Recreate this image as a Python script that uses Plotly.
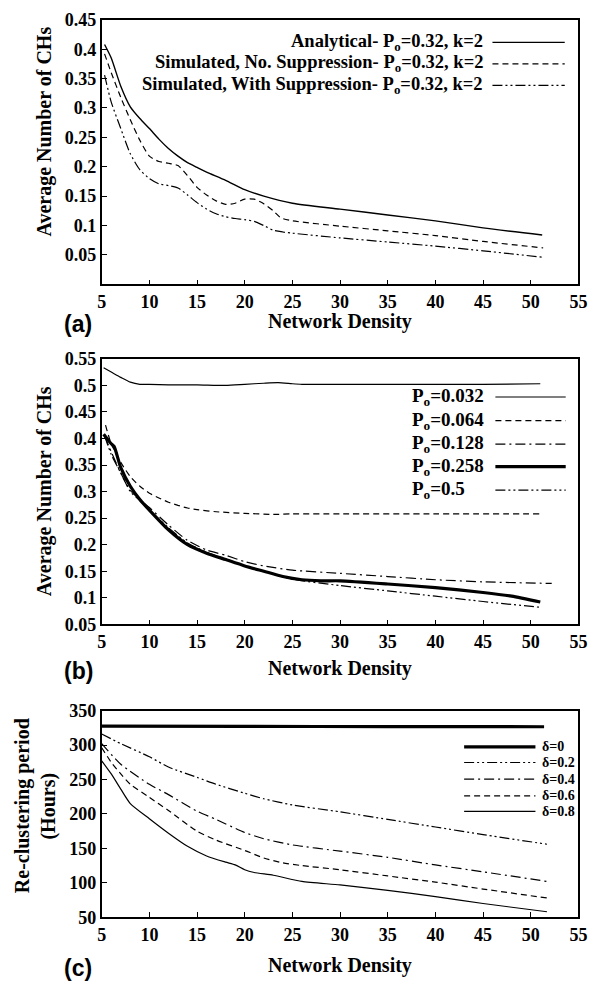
import plotly.graph_objects as go

W, H = 605, 990
SERIF = "Liberation Serif, Times New Roman, serif"
SANS = "Liberation Sans, Arial, sans-serif"

# ---------------- Panel (a) data ----------------
a_an_x = [5.3, 6, 7, 8, 9, 10, 11, 12, 13, 14, 15, 16, 18, 20, 22, 25, 30, 35, 40, 45, 51.2]
a_an_y = [0.408, 0.385, 0.337, 0.302, 0.282, 0.265, 0.247, 0.231, 0.218, 0.207, 0.199, 0.191, 0.177, 0.161, 0.150, 0.138, 0.128, 0.118, 0.108, 0.096, 0.084]
a_ns_x = [5.3, 6, 7, 8, 9, 10, 11, 12, 13, 14, 15, 16, 17, 18, 19, 20, 21, 22, 23, 23.8, 25, 30, 35, 40, 45, 51.3]
a_ns_y = [0.392, 0.36, 0.318, 0.28, 0.245, 0.218, 0.209, 0.206, 0.202, 0.185, 0.165, 0.152, 0.142, 0.136, 0.138, 0.145, 0.145, 0.137, 0.125, 0.113, 0.108, 0.099, 0.091, 0.083, 0.073, 0.062]
a_ws_x = [5.3, 6, 7, 8, 9, 10, 11, 12, 13, 14, 15, 16, 17, 18, 19, 20, 21, 22, 23, 24, 25, 30, 35, 40, 45, 51.3]
a_ws_y = [0.356, 0.31, 0.265, 0.222, 0.195, 0.18, 0.171, 0.168, 0.164, 0.152, 0.139, 0.128, 0.12, 0.115, 0.112, 0.11, 0.107, 0.1, 0.092, 0.089, 0.087, 0.079, 0.072, 0.065, 0.057, 0.046]
a_names = ["Analytical- P<sub>o</sub>=0.32, k=2",
           "Simulated, No. Suppression- P<sub>o</sub>=0.32, k=2",
           "Simulated, With Suppression- P<sub>o</sub>=0.32, k=2"]
a_yticks = [0.05, 0.1, 0.15, 0.2, 0.25, 0.3, 0.35, 0.4, 0.45]
a_ytext = ["0.05", "0.1", "0.15", "0.2", "0.25", "0.3", "0.35", "0.4", "0.45"]

# ---------------- Panel (b) data ----------------
b1_x = [5.2, 6, 7, 8, 9, 10, 12, 15, 18, 20, 22, 23.5, 25, 26, 30, 35, 40, 45, 51]
b1_y = [0.533, 0.525, 0.515, 0.506, 0.502, 0.502, 0.501, 0.501, 0.5, 0.502, 0.504, 0.505, 0.503, 0.502, 0.502, 0.502, 0.502, 0.502, 0.503]
b2_x = [5.4, 6, 7, 8, 9, 10, 11, 12, 13, 14, 15, 17, 20, 23, 25, 30, 40, 51]
b2_y = [0.425, 0.39, 0.355, 0.328, 0.31, 0.297, 0.288, 0.28, 0.274, 0.269, 0.266, 0.262, 0.259, 0.257, 0.258, 0.258, 0.258, 0.258]
b3_x = [5.3, 6, 7, 8, 9, 10, 12, 14, 16, 18, 20, 22, 25, 30, 35, 40, 45, 52.2]
b3_y = [0.405, 0.375, 0.335, 0.302, 0.285, 0.27, 0.237, 0.208, 0.19, 0.18, 0.168, 0.16, 0.152, 0.146, 0.14, 0.134, 0.13, 0.127]
b4_x = [5.2, 6, 6.3, 7, 8, 9, 10, 12, 14, 16, 18, 20, 22, 24, 26, 28, 30, 35, 40, 45, 48, 51]
b4_y = [0.408, 0.39, 0.385, 0.345, 0.31, 0.285, 0.265, 0.228, 0.2, 0.184, 0.172, 0.16, 0.15, 0.14, 0.134, 0.132, 0.132, 0.126, 0.119, 0.11, 0.103, 0.092]
b5_x = [5.3, 6, 7, 8, 9, 10, 12, 14, 16, 18, 20, 22, 25, 30, 35, 40, 45, 51]
b5_y = [0.405, 0.37, 0.335, 0.3, 0.283, 0.265, 0.232, 0.203, 0.186, 0.173, 0.16, 0.15, 0.135, 0.123, 0.113, 0.103, 0.093, 0.082]
b_names = ["P<sub>o</sub>=0.032", "P<sub>o</sub>=0.064", "P<sub>o</sub>=0.128",
           "P<sub>o</sub>=0.258", "P<sub>o</sub>=0.5"]
b_yticks = [0.05, 0.1, 0.15, 0.2, 0.25, 0.3, 0.35, 0.4, 0.45, 0.5, 0.55]
b_ytext = ["0.05", "0.1", "0.15", "0.2", "0.25", "0.3", "0.35", "0.4", "0.45", "0.5", "0.55"]

# ---------------- Panel (c) data ----------------
c0_x = [5, 20, 35, 51.4]
c0_y = [327.5, 327, 326.8, 326.5]
c2_x = [5, 7, 10, 12, 15, 17, 20, 22, 25, 30, 35, 40, 45, 51.7]
c2_y = [316, 302, 283, 268, 253, 243, 230, 222, 213, 203, 192, 181, 170, 156]
c4_x = [5, 7, 10, 12, 15, 17, 20, 22, 25, 30, 35, 40, 45, 51.7]
c4_y = [302, 272, 243, 228, 204, 192, 173, 164, 155, 146, 137, 126, 116, 102]
c6_x = [5, 6, 7, 8, 10, 12, 15, 17, 20, 22, 24, 26, 30, 35, 40, 45, 51.7]
c6_y = [296, 275, 258, 243, 224, 205, 175, 162, 147, 136, 129, 125, 119, 110, 101, 91, 78]
c8_x = [5, 6, 7, 8, 10, 12, 14, 16, 18, 19, 20, 21, 23, 26, 30, 35, 40, 45, 51.7]
c8_y = [277, 258, 236, 215, 193, 172, 153, 139, 130, 126, 119, 115, 111, 102, 97, 89, 80, 70, 58]
c_names = ["δ=0", "δ=0.2", "δ=0.4", "δ=0.6", "δ=0.8"]
c_yticks = [50, 100, 150, 200, 250, 300, 350]

x_ticks = [5, 10, 15, 20, 25, 30, 35, 40, 45, 50, 55]
x_title = "Network Density"
panel_labels = ["(a)", "(b)", "(c)"]

# ---------------- styles ----------------
SOLID = "solid"
DASH = "6px,4px"
DASHDOT = "10px,4px,2px,4px"
DASHDOTDOT = "10px,3px,2px,3px,2px,3px"

def px_x(p):
    return p / W

def px_y(p):
    return 1 - p / H

LEFT, RIGHT = 99, 587
boxes = [(10, 280), (356, 627), (715, 926)]

fig = go.Figure()

def add(x, y, ax, dash, width):
    fig.add_trace(go.Scatter(
        x=x, y=y, mode="lines", xaxis="x" + ax, yaxis="y" + ax,
        line=dict(color="black", dash=dash, width=width, shape="spline", smoothing=0.6),
        showlegend=False, hoverinfo="skip"))

a_styles = [(SOLID, 1.4), (DASH, 1.2), (DASHDOTDOT, 1.2)]
for (x, y), (d, w) in zip([(a_an_x, a_an_y), (a_ns_x, a_ns_y), (a_ws_x, a_ws_y)], a_styles):
    add(x, y, "", d, w)

b_styles = [(SOLID, 1.2), (DASH, 1.2), (DASHDOT, 1.2), (SOLID, 3.2), (DASHDOTDOT, 1.2)]
for (x, y), (d, w) in zip([(b1_x, b1_y), (b2_x, b2_y), (b3_x, b3_y), (b4_x, b4_y), (b5_x, b5_y)], b_styles):
    add(x, y, "2", d, w)

c_styles = [(SOLID, 3.2), (DASHDOTDOT, 1.2), (DASHDOT, 1.2), (DASH, 1.2), (SOLID, 1.2)]
for (x, y), (d, w) in zip([(c0_x, c0_y), (c2_x, c2_y), (c4_x, c4_y), (c6_x, c6_y), (c8_x, c8_y)], c_styles):
    add(x, y, "3", d, w)

tickfont = dict(family=SERIF, size=18, color="black", weight="bold")
xdom = [px_x(LEFT), px_x(RIGHT)]

def xaxis_cfg(anchor):
    return dict(domain=xdom, anchor=anchor, range=[5, 55], tickvals=x_ticks,
                ticks="inside", ticklen=5, tickwidth=1.2, tickcolor="black",
                showline=True, linecolor="black", linewidth=1.6, mirror=True,
                showgrid=False, zeroline=False, tickfont=tickfont)

def yaxis_cfg(anchor, dom, rng, tv, tt):
    return dict(domain=dom, anchor=anchor, range=rng, tickvals=tv, ticktext=tt,
                ticks="inside", ticklen=5, tickwidth=1.2, tickcolor="black",
                showline=True, linecolor="black", linewidth=1.6, mirror=True,
                showgrid=False, zeroline=False, tickfont=tickfont)

doms = [[px_y(b), px_y(t)] for t, b in boxes]

fig.update_layout(
    width=W, height=H, margin=dict(l=0, r=0, t=0, b=0),
    paper_bgcolor="white", plot_bgcolor="white", showlegend=False,
    font=dict(family=SERIF, color="black"),
    xaxis=xaxis_cfg("y"), xaxis2=xaxis_cfg("y2"), xaxis3=xaxis_cfg("y3"),
    yaxis=yaxis_cfg("x", doms[0], [0, 0.45], a_yticks, a_ytext),
    yaxis2=yaxis_cfg("x2", doms[1], [0.05, 0.55], b_yticks, b_ytext),
    yaxis3=yaxis_cfg("x3", doms[2], [50, 350], c_yticks, [str(v) for v in c_yticks]),
)

ann = []
shapes = []

def text(x, y, s, size, family=SERIF, xanchor="center", angle=0):
    ann.append(dict(x=px_x(x), y=px_y(y), xref="paper", yref="paper", text=s,
                    showarrow=False, xanchor=xanchor, yanchor="middle", textangle=angle,
                    font=dict(family=family, size=size, color="black", weight="bold")))

def sample(x0, x1, y, dash, width):
    shapes.append(dict(type="line", xref="paper", yref="paper",
                       x0=px_x(x0), x1=px_x(x1), y0=px_y(y), y1=px_y(y),
                       line=dict(color="black", dash=dash, width=width)))

for yy, lab, ly in zip([318, 672, 975], panel_labels, [320, 675, 978]):
    text(343, yy, x_title, 20)
    text(75, ly, lab, 23, family=SANS)

text(40, 124, "Average Number of CHs", 20, angle=-90)
text(40, 491, "Average Number of CHs", 20, angle=-90)
text(18, 812, "Re-clustering period", 20, angle=-90)
text(45, 812, "(Hours)", 20, angle=-90)

for yy, name, (d, w) in zip([33, 55, 77], a_names, a_styles):
    text(491, yy, name, 18.5, xanchor="right")
    sample(499, 573, yy, d, w)

for yy, name, (d, w) in zip([395, 419, 443, 466, 490], b_names, b_styles):
    text(415, yy, name, 19, xanchor="left")
    sample(502, 574, yy, d, w)

for yy, name, (d, w) in zip([752, 768, 785, 802, 818], c_names, c_styles):
    text(548, yy, name, 14, xanchor="left")
    sample(470, 543, yy, d, w)

fig.update_layout(annotations=ann, shapes=shapes)
fig.write_html("out.html")
